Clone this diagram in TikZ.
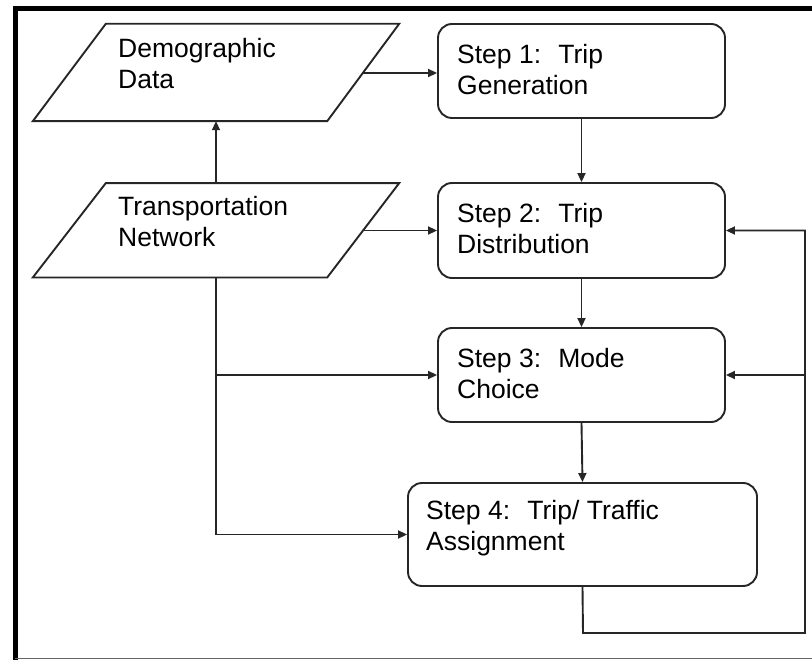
\documentclass[tikz,border=0pt]{standalone}
\usepackage{fontspec}
\setmainfont{Liberation Sans}
\usetikzlibrary{arrows.meta,calc}
\begin{document}
\begin{tikzpicture}[x=1pt,y=-1pt,
  stepbox/.style={draw=black!85, rounded corners=14pt, line width=1.9pt, inner sep=0pt},
  iobox/.style={draw=none, inner sep=0pt, minimum width=366pt},
  conn/.style={draw=black!85, line width=1.9pt, -{Triangle[length=9pt,width=8pt]}},
  plain/.style={draw=black!85, line width=1.9pt},
  txt/.style={anchor=north west, inner sep=0pt, align=left, font=\fontsize{26.5}{31}\selectfont}]
\useasboundingbox (0,0) rectangle (812,660);
% frame
\draw[line width=5.5pt, black, line join=miter] (15.3,662) -- (15.3,8.7) -- (814,8.7);
\draw[line width=1.5pt, black!60] (15.3,658.5) -- (814,658.5);
% input parallelograms (bounding nodes)
\node[iobox, minimum height=97pt] (dem) at (216,72.5) {};
\node[iobox, minimum height=94pt] (trn) at (216,230.3) {};
\draw[plain] ($(dem.north west)+(73,0)$) -- (dem.north east) -- ($(dem.south east)-(72,0)$) -- (dem.south west) -- cycle;
\draw[plain] ($(trn.north west)+(73,0)$) -- (trn.north east) -- ($(trn.south east)-(72,0)$) -- (trn.south west) -- cycle;
\node[txt] (demt) at (118,38) {Demographic\\Data};
\node[txt] (trnt) at (118,196.5) {Transportation\\Network};
% steps
\node[stepbox, minimum width=287pt, minimum height=94pt] (s1) at (581.5,71) {};
\node[stepbox, minimum width=287pt, minimum height=95pt] (s2) at (581.5,230.5) {};
\node[stepbox, minimum width=287pt, minimum height=94pt] (s3) at (581.5,375) {};
\node[stepbox, minimum width=349pt, minimum height=103pt] (s4) at (582.5,534.5) {};
\node[txt] (s1t) at (457,44.5) {Step 1:\hspace{0.65em}Trip\\Generation};
\node[txt] (s2t) at (457,203.5) {Step 2:\hspace{0.65em}Trip\\Distribution};
\node[txt] (s3t) at (457,348) {Step 3:\hspace{0.65em}Mode\\Choice};
\node[txt] (s4t) at (426,500) {Step 4:\hspace{0.65em}Trip/ Traffic\\Assignment};
% connection points
\coordinate (demR) at (363,73);
\coordinate (trnR) at (363.5,230.5);
\coordinate (fbb) at (583,633);
\coordinate (fbr) at (805,633);
% connectors
\draw[conn] (trn.north) -- (dem.south);
\draw[conn] (demR) -- (demR -| s1.west);
\draw[conn] (trnR) -- (s2.west);
\draw[conn] (s1.south) -- (s2.north);
\draw[conn] (s2.south) -- (s3.north);
\draw[conn] (s3.south) -- (s4.north);
\draw[conn] (trn.south) |- (s4.west);
\draw[conn] (trn.south |- s3.west) -- (s3.west);
\draw[conn] (s4.south) -- (fbb) -- (fbr) |- (s2.east);
\draw[conn] (fbr |- s3.east) -- (s3.east);
\end{tikzpicture}
\end{document}
